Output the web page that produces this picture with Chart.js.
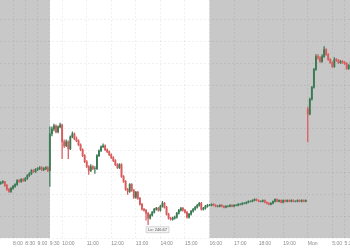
<!DOCTYPE html>
<html>
  <head>
    <style>
      body { margin: 0; background: #fff; }
    </style>
  </head>
  <body>
    <canvas id="chart" width="350" height="250"></canvas>

    <script src="https://cdn.jsdelivr.net/npm/chart.js"></script>
    <script>
      // 5 minute candles, [open, high, low, close]
      const preStart = 7.5;   // 7:30 premarket
      const regStart = 9.5;   // 9:30 open
      const postStart = 16;   // 16:00 after hours
      const monStart = 20;    // Mon 4:00 premarket, drawn right after Friday 20:00

      const preBars = [
        [248.75, 248.85, 248.70, 248.80], [248.80, 248.90, 248.75, 248.85], [248.85, 248.85, 248.60, 248.65],
        [248.65, 248.70, 248.40, 248.45], [248.45, 248.50, 248.30, 248.35], [248.35, 248.55, 248.30, 248.50],
        [248.50, 248.65, 248.45, 248.60], [248.60, 248.75, 248.55, 248.70], [248.70, 248.95, 248.65, 248.90],
        [248.90, 248.95, 248.80, 248.85], [248.85, 249.00, 248.80, 248.95], [248.95, 249.00, 248.85, 248.90],
        [248.90, 249.05, 248.85, 249.00], [249.00, 249.20, 248.95, 249.15], [249.15, 249.30, 249.10, 249.25],
        [249.25, 249.45, 249.20, 249.40], [249.40, 249.45, 249.30, 249.35], [249.35, 249.50, 249.30, 249.45],
        [249.45, 249.55, 249.40, 249.50], [249.50, 249.60, 249.45, 249.55], [249.55, 249.60, 249.40, 249.45],
        [249.45, 249.55, 249.40, 249.50], [249.50, 249.60, 249.45, 249.55], [249.55, 249.60, 249.35, 249.40]
      ];

      const regBars = [
        [249.40, 251.60, 248.60, 251.25], [251.25, 251.60, 251.15, 251.50], [251.50, 251.75, 251.40, 251.65],
        [251.65, 251.70, 251.30, 251.35], [251.35, 251.65, 251.30, 251.60], [251.60, 251.80, 251.55, 251.70],
        [251.70, 251.75, 250.00, 250.85], [250.85, 250.95, 250.55, 250.65], [250.65, 250.95, 250.60, 250.85],
        [250.85, 250.90, 250.00, 250.50], [250.50, 251.15, 250.45, 251.10], [251.10, 251.35, 251.05, 251.25],
        [251.25, 251.30, 250.95, 251.00], [251.00, 251.10, 250.85, 250.90], [250.90, 250.95, 250.65, 250.70],
        [250.70, 250.75, 250.40, 250.45], [250.45, 250.50, 250.10, 250.15], [250.15, 250.20, 249.80, 249.85],
        [249.85, 249.90, 249.55, 249.60], [249.60, 249.65, 249.20, 249.40], [249.40, 249.70, 249.35, 249.60],
        [249.60, 249.65, 249.45, 249.50], [249.50, 249.60, 249.25, 249.50], [249.50, 250.20, 249.45, 250.15],
        [250.15, 250.45, 250.10, 250.40], [250.40, 250.65, 250.35, 250.60], [250.60, 250.75, 250.55, 250.65],
        [250.65, 250.70, 250.40, 250.45], [250.45, 250.50, 250.30, 250.35], [250.35, 250.40, 250.15, 250.20],
        [250.20, 250.25, 250.00, 250.05], [250.05, 250.10, 249.85, 249.90], [249.90, 249.95, 249.65, 249.70],
        [249.70, 249.75, 249.50, 249.55], [249.55, 249.75, 249.50, 249.70], [249.70, 249.75, 249.05, 249.10],
        [249.10, 249.15, 248.80, 248.85], [248.85, 248.90, 248.40, 248.45], [248.45, 248.50, 248.20, 248.35],
        [248.35, 248.75, 248.30, 248.70], [248.70, 248.75, 248.35, 248.40], [248.40, 248.45, 248.00, 248.05],
        [248.05, 248.35, 248.00, 248.30], [248.30, 248.35, 247.95, 248.00], [248.00, 248.05, 247.65, 247.70],
        [247.70, 247.75, 247.40, 247.45], [247.45, 247.50, 247.35, 247.40], [247.40, 247.45, 246.90, 247.25],
        [247.25, 247.30, 246.67, 247.00], [247.00, 247.20, 246.95, 247.15], [247.15, 247.35, 247.10, 247.30],
        [247.30, 247.50, 247.25, 247.45], [247.45, 247.55, 247.40, 247.50], [247.50, 247.55, 247.35, 247.40],
        [247.40, 247.65, 247.35, 247.60], [247.60, 247.85, 247.55, 247.75], [247.75, 247.80, 247.50, 247.55],
        [247.55, 247.60, 247.15, 247.20], [247.20, 247.25, 246.95, 247.00], [247.00, 247.05, 246.90, 246.95],
        [246.95, 247.05, 246.90, 247.00], [247.00, 247.10, 246.95, 247.05], [247.05, 247.30, 247.00, 247.25],
        [247.25, 247.45, 247.20, 247.40], [247.40, 247.55, 247.35, 247.50], [247.50, 247.55, 247.35, 247.40],
        [247.40, 247.45, 247.25, 247.30], [247.30, 247.35, 247.00, 247.05], [247.05, 247.25, 247.00, 247.20],
        [247.20, 247.40, 247.15, 247.35], [247.35, 247.50, 247.30, 247.45], [247.45, 247.60, 247.40, 247.55],
        [247.55, 247.70, 247.50, 247.65], [247.65, 247.80, 247.60, 247.75], [247.75, 247.80, 247.40, 247.45],
        [247.45, 247.55, 247.40, 247.50], [247.50, 247.65, 247.45, 247.60], [247.60, 247.70, 247.55, 247.65]
      ];

      const postBars = [
        [247.65, 247.70, 247.62, 247.65], [247.65, 247.73, 247.62, 247.70], [247.70, 247.73, 247.62, 247.65],
        [247.65, 247.68, 247.57, 247.60], [247.60, 247.63, 247.57, 247.60], [247.60, 247.68, 247.57, 247.65],
        [247.65, 247.68, 247.57, 247.60], [247.60, 247.63, 247.52, 247.55], [247.55, 247.63, 247.52, 247.60],
        [247.60, 247.63, 247.57, 247.60], [247.60, 247.68, 247.57, 247.65], [247.65, 247.68, 247.57, 247.60],
        [247.60, 247.68, 247.57, 247.65], [247.65, 247.68, 247.62, 247.65], [247.65, 247.73, 247.62, 247.70],
        [247.70, 247.73, 247.67, 247.70], [247.70, 247.78, 247.67, 247.75], [247.75, 247.78, 247.72, 247.75],
        [247.75, 247.83, 247.72, 247.80], [247.80, 247.88, 247.77, 247.85], [247.85, 247.88, 247.82, 247.85],
        [247.85, 247.93, 247.82, 247.90], [247.90, 247.98, 247.87, 247.95], [247.95, 247.98, 247.87, 247.90],
        [247.90, 247.93, 247.82, 247.85], [247.85, 247.88, 247.82, 247.85], [247.85, 247.93, 247.82, 247.90],
        [247.90, 247.93, 247.77, 247.80], [247.80, 247.83, 247.72, 247.75], [247.75, 247.78, 247.67, 247.70],
        [247.70, 247.78, 247.67, 247.75], [247.75, 247.88, 247.72, 247.85], [247.85, 247.98, 247.82, 247.95],
        [247.95, 247.98, 247.82, 247.85], [247.85, 247.93, 247.82, 247.90], [247.90, 247.93, 247.77, 247.80],
        [247.80, 247.93, 247.77, 247.90], [247.90, 247.93, 247.82, 247.85], [247.85, 247.93, 247.82, 247.90],
        [247.90, 247.93, 247.82, 247.85], [247.85, 247.93, 247.82, 247.90], [247.90, 247.93, 247.82, 247.85],
        [247.85, 247.88, 247.82, 247.85], [247.85, 247.93, 247.82, 247.90], [247.90, 247.93, 247.82, 247.85],
        [247.85, 247.93, 247.82, 247.90], [247.90, 247.93, 247.82, 247.85], [247.85, 247.93, 247.82, 247.90]
      ];

      const monBars = [
        [252.50, 252.60, 250.85, 252.25], [252.25, 253.05, 252.20, 253.00], [253.00, 253.65, 252.95, 253.60],
        [253.60, 254.55, 253.55, 254.50], [254.50, 255.25, 254.45, 255.15], [255.15, 255.25, 255.00, 255.10],
        [255.10, 255.15, 254.85, 254.90], [254.90, 255.25, 254.85, 255.15], [255.15, 255.65, 255.10, 255.50],
        [255.50, 255.55, 255.20, 255.25], [255.25, 255.30, 254.95, 255.00], [255.00, 255.05, 254.80, 254.85],
        [254.85, 254.90, 254.60, 254.65], [254.65, 255.10, 254.60, 255.00], [255.00, 255.05, 254.90, 254.95],
        [254.95, 255.00, 254.80, 254.85], [254.85, 254.95, 254.80, 254.90], [254.90, 254.95, 254.80, 254.85],
        [254.85, 254.90, 254.75, 254.80], [254.80, 254.85, 254.50, 254.55], [254.55, 254.75, 254.50, 254.70],
        [254.70, 254.95, 254.65, 254.90]
      ];

      const tickHours = [8, 8.5, 9, 9.5, 10, 11, 12, 13, 14, 15, 16, 17, 18, 19, 20, 21, 21.5];
      const tickLabels = ['8:00', '8:30', '9:00', '9:30', '10:00', '11:00', '12:00', '13:00', '14:00',
        '15:00', '16:00', '17:00', '18:00', '19:00', 'Mon', '5:00', '5:30'];

      const lowLabel = 'Lo: 246.67';

      const step = 5 / 60;
      const upColor = '#3b7a55';
      const downColor = '#d95c5c';

      const candles = [];
      function addSession(bars, start) {
        bars.forEach((b, i) => {
          candles.push({ t: start + i * step, o: b[0], h: b[1], l: b[2], c: b[3] });
        });
      }
      addSession(preBars, preStart);
      addSession(regBars, regStart);
      addSession(postBars, postStart);
      addSession(monBars, monStart);

      const colors = candles.map((k) => (k.c >= k.o ? upColor : downColor));

      // find the regular session low for the little "Lo" tag
      let lowCandle = null;
      candles.forEach((k) => {
        if (k.t >= regStart && k.t < postStart && (!lowCandle || k.l < lowCandle.l)) lowCandle = k;
      });

      const sessionBands = {
        id: 'sessionBands',
        beforeDraw(chart) {
          const { ctx, chartArea, scales } = chart;
          ctx.save();
          ctx.fillStyle = '#ffffff';
          ctx.fillRect(0, 0, chart.width, chart.height);
          ctx.fillStyle = '#c8c8c8';
          ctx.fillRect(chartArea.left, chartArea.top, chartArea.width, chartArea.height);
          const x1 = scales.x.getPixelForValue(regStart);
          const x2 = scales.x.getPixelForValue(postStart);
          ctx.fillStyle = '#ffffff';
          ctx.fillRect(x1, chartArea.top, x2 - x1, chartArea.height);
          ctx.restore();
        },
        afterDatasetsDraw(chart) {
          if (!lowCandle) return;
          const { ctx, scales } = chart;
          const x = scales.x.getPixelForValue(lowCandle.t);
          const y = scales.y.getPixelForValue(lowCandle.l);
          ctx.save();
          ctx.font = '4px "Liberation Sans", Arial, sans-serif';
          const w = ctx.measureText(lowLabel).width + 4;
          const bx = x - 2;
          const by = y + 2;
          ctx.beginPath();
          ctx.rect(bx, by, w, 6);
          ctx.fillStyle = '#f3f3f3';
          ctx.fill();
          ctx.strokeStyle = '#b5b5b5';
          ctx.lineWidth = 0.5;
          ctx.stroke();
          ctx.fillStyle = '#555';
          ctx.textBaseline = 'middle';
          ctx.fillText(lowLabel, bx + 2, by + 3.2);
          ctx.restore();
        },
      };

      const config = {
        type: 'bar',
        data: {
          datasets: [
            {
              label: 'wick',
              data: candles.map((k) => ({ x: k.t, y: [k.l, k.h] })),
              backgroundColor: colors,
              barThickness: 0.6,
              grouped: false,
            },
            {
              label: 'body',
              data: candles.map((k) => ({ x: k.t, y: [k.o, k.c] })),
              backgroundColor: colors,
              barThickness: 1.2,
              grouped: false,
            },
          ],
        },
        options: {
          responsive: false,
          animation: false,
          layout: { padding: 0 },
          plugins: {
            legend: { display: false },
            tooltip: { enabled: false },
          },
          scales: {
            x: {
              type: 'linear',
              min: 7.47,
              max: 21.72,
              offset: false,
              afterBuildTicks(scale) {
                scale.ticks = tickHours.map((v) => ({ value: v }));
              },
              afterFit(scale) {
                // let the plot run edge to edge, labels may clip like the original
                scale.paddingLeft = 0;
                scale.paddingRight = 0;
              },
              ticks: {
                autoSkip: false,
                maxRotation: 0,
                align: 'start',
                padding: 3,
                color: '#8a8a8a',
                font: { size: 5, family: '"Liberation Sans", Arial, sans-serif' },
                callback: (v) => tickLabels[tickHours.indexOf(v)],
              },
              grid: {
                offset: false,
                drawTicks: false,
                color: 'rgba(0, 0, 0, 0.06)',
                lineWidth: 1,
              },
              border: { display: false, dash: [2, 2] },
            },
            y: {
              min: 246,
              max: 258,
              afterBuildTicks(scale) {
                const ticks = [];
                for (let v = scale.min; v <= scale.max; v += 1.1) ticks.push({ value: v });
                scale.ticks = ticks;
              },
              afterFit(scale) {
                scale.paddingTop = 0;
                scale.paddingBottom = 0;
              },
              ticks: { display: false },
              grid: {
                drawTicks: false,
                color: 'rgba(0, 0, 0, 0.06)',
              },
              border: { display: false, dash: [2, 2] },
            },
          },
        },
        plugins: [sessionBands],
      };

      const chart = new Chart(document.getElementById('chart'), config);
    </script>
  </body>
</html>
